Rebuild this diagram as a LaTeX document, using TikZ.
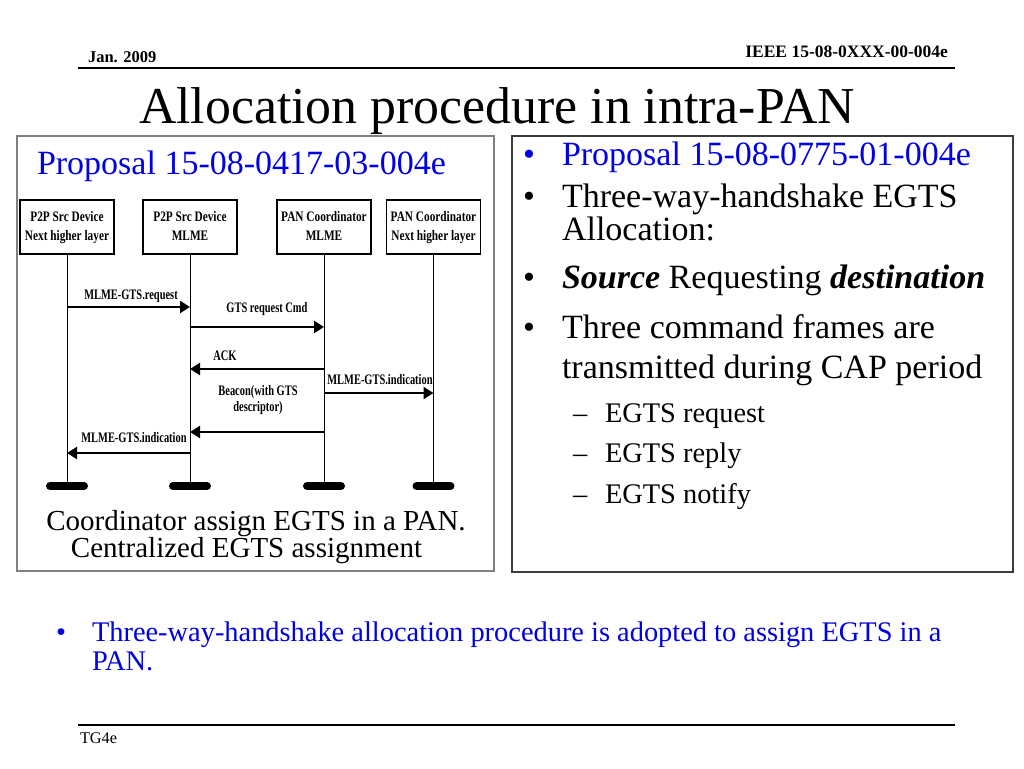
\documentclass[tikz,border=0pt]{standalone}
\usepackage{fontspec}
\setmainfont{Liberation Serif}
\newfontfamily\boxfont[FakeStretch=0.78]{Liberation Serif}
\newfontfamily\arrfont[FakeStretch=0.72]{Liberation Serif}
\usetikzlibrary{arrows.meta}
\definecolor{pblue}{RGB}{0,0,230}
\definecolor{lboxgray}{RGB}{128,128,128}
\definecolor{rboxgray}{RGB}{60,60,60}
\tikzset{
  txt/.style={inner sep=0pt, outer sep=0pt},
  big/.style={txt, anchor=base west, font=\fontsize{34}{40}\selectfont},
  sub/.style={txt, anchor=base west, font=\fontsize{28.4}{34}\selectfont},
  hdrbox/.style={draw, line width=1.8pt, minimum width=94pt, minimum height=54pt, align=center, inner sep=0pt,
     font=\boxfont\bfseries\fontsize{14.5}{19}\selectfont},
  lifeline/.style={line width=1pt},
  endbar/.style={line width=8pt, line cap=round},
  msg/.style={line width=2.2pt, -{Triangle[length=10pt,width=12pt]}},
  msglabel/.style={txt, anchor=base, align=center, font=\arrfont\bfseries\fontsize{14.5}{16}\selectfont},
}
\begin{document}
\begin{tikzpicture}[x=1pt,y=-1pt]
\useasboundingbox (0,0) rectangle (1024,768);
\fill[white] (0,0) rectangle (1024,768);

% header
\node[txt, anchor=base west, font=\fontsize{16.5}{18}\selectfont\bfseries] (date) at (88,63) {Jan. 2009};
\node[txt, anchor=base east, font=\fontsize{17.5}{19}\selectfont\bfseries] (docid) at (948,58) {IEEE 15-08-0XXX-00-004e};
\draw[line width=1.6pt] (78,68) -- (955,68);

% title
\node[txt, anchor=base, font=\fontsize{51.8}{56}\selectfont] (title) at (497,123) {Allocation procedure in intra-PAN};

% frames
\draw[lboxgray, line width=1.3pt] (17,136) rectangle (494,571);
\draw[rboxgray, line width=1.3pt] (512,136) rectangle (1013,572);

% left frame
\node[big, text=pblue] (lprop) at (37,174) {Proposal 15-08-0417-03-004e};

\node[hdrbox] (b1) at (67,227) {P2P Src Device\strut\\Next higher layer\strut};
\node[hdrbox] (b2) at (190,227) {P2P Src Device\strut\\MLME\strut};
\node[hdrbox] (b3) at (324,227) {PAN Coordinator\strut\\MLME\strut};
\node[hdrbox] (b4) at (433.5,227) {PAN Coordinator\strut\\Next higher layer\strut};

\coordinate (e1) at (67,486);
\coordinate (e2) at (190,486);
\coordinate (e3) at (324,486);
\coordinate (e4) at (433.5,486);
\draw[lifeline] (b1.south) -- (e1);
\draw[lifeline] (b2.south) -- (e2);
\draw[lifeline] (b3.south) -- (e3);
\draw[lifeline] (b4.south) -- (e4);
\foreach \e in {e1,e2,e3,e4}
  \draw[endbar] ([xshift=-17pt]\e) -- ([xshift=17pt]\e);

% messages
\coordinate (m1a) at (67,307);  \coordinate (m1b) at (190,307);
\coordinate (m2a) at (190,327); \coordinate (m2b) at (324,327);
\coordinate (m3a) at (324,369); \coordinate (m3b) at (190,369);
\coordinate (m4a) at (324,393); \coordinate (m4b) at (433.5,393);
\coordinate (m5a) at (324,432); \coordinate (m5b) at (190,432);
\coordinate (m6a) at (190,453); \coordinate (m6b) at (67,453);
\draw[msg] (m1a) -- (m1b);
\draw[msg] (m2a) -- (m2b);
\draw[msg] (m3a) -- (m3b);
\draw[msg] (m4a) -- (m4b);
\draw[msg] (m5a) -- (m5b);
\draw[msg] (m6a) -- (m6b);

\node[msglabel] (l1) at (131,299) {MLME-GTS.request};
\node[msglabel] (l2) at (267,312) {GTS request Cmd};
\node[msglabel] (l3) at (225,360) {ACK};
\node[msglabel] (l4) at (380,384) {MLME-GTS.indication};
\node[msglabel, anchor=base] (l5) at (258,411) {Beacon(with GTS\\descriptor)};
\node[msglabel] (l6) at (134,442) {MLME-GTS.indication};

\node[txt, anchor=base, font=\fontsize{29}{34}\selectfont] (cap1) at (256,530) {Coordinator assign EGTS in a PAN.};
\node[txt, anchor=base, font=\fontsize{29}{34}\selectfont] (cap2) at (246.5,557) {Centralized EGTS assignment};

% right frame
\node[big, text=pblue] (rb1) at (523,165) {•};
\node[big, text=pblue] (rt1) at (562,165) {Proposal 15-08-0775-01-004e};
\node[big] (rb2) at (523,207) {•};
\node[big] (rt2) at (562,207) {Three-way-handshake EGTS};
\node[big] (rt2b) at (562,240) {Allocation:};
\node[big] (rb3) at (523,288) {•};
\node[big] (rt3) at (562,288) {\textbf{\textit{Source}} Requesting \textbf{\textit{destination}}};
\node[big] (rb4) at (523,338) {•};
\node[big] (rt4) at (562,338) {Three command frames are};
\node[big] (rt4b) at (562,378) {transmitted during CAP period};
\node[sub] (rd1) at (573,422) {–};
\node[sub] (rs1) at (605,422) {EGTS request};
\node[sub] (rd2) at (573,462) {–};
\node[sub] (rs2) at (605,462) {EGTS reply};
\node[sub] (rd3) at (573,503) {–};
\node[sub] (rs3) at (605,503) {EGTS notify};

% bottom bullet
\node[sub, text=pblue] (bb) at (56,641) {•};
\node[sub, text=pblue] (bt1) at (92,641) {Three-way-handshake allocation procedure is adopted to assign EGTS in a};
\node[sub, text=pblue] (bt2) at (92,670) {PAN.};

% footer
\draw[line width=1.3pt] (78,725) -- (955,725);
\node[txt, anchor=base west, font=\fontsize{16.3}{18}\selectfont] (tg) at (80,743) {TG4e};
\end{tikzpicture}
\end{document}
